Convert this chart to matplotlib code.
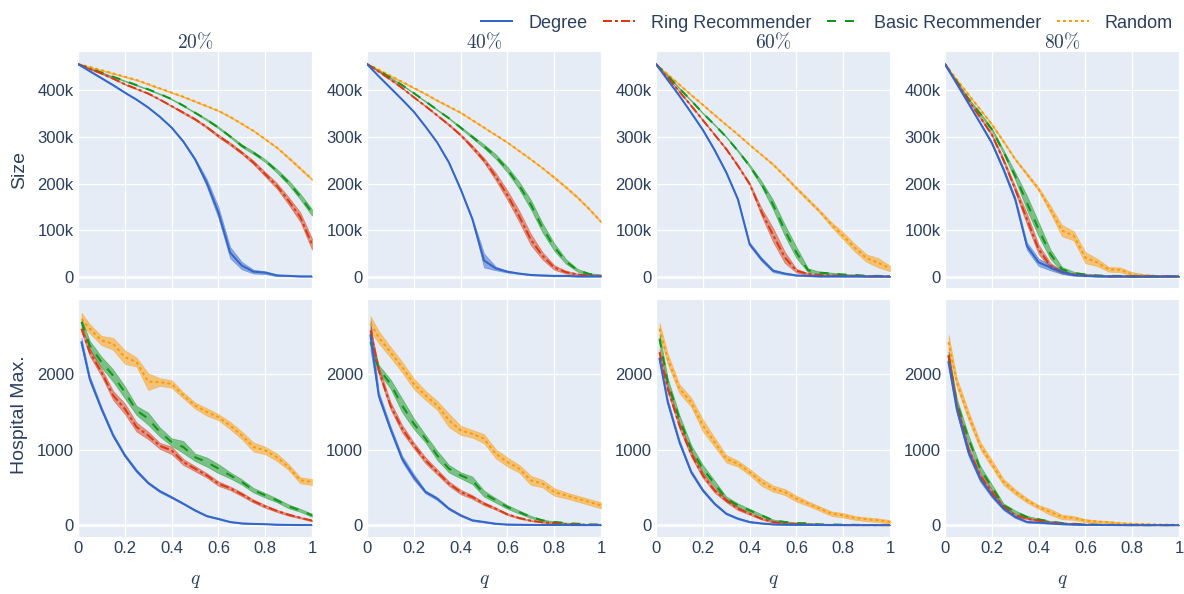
import matplotlib
matplotlib.use("Agg")
import matplotlib.pyplot as plt
import numpy as np
from matplotlib.lines import Line2D

# ---------------- data ----------------
q_size = [0, 0.05, 0.1, 0.15, 0.2, 0.25, 0.3, 0.35, 0.4, 0.45, 0.5,
          0.55, 0.6, 0.65, 0.7, 0.75, 0.8, 0.85, 0.9, 0.95, 1.0]
q_hosp = [0.015, 0.05, 0.1, 0.15, 0.2, 0.25, 0.3, 0.35, 0.4, 0.45, 0.5,
          0.55, 0.6, 0.65, 0.7, 0.75, 0.8, 0.85, 0.9, 0.95, 1.0]

panel_titles = ["20%", "40%", "60%", "80%"]
series_names = ["Degree", "Ring Recommender", "Basic Recommender", "Random"]
size_ticks = [0, 100000, 200000, 300000, 400000]
size_tick_labels = ["0", "100k", "200k", "300k", "400k"]
hosp_ticks = [0, 1000, 2000]
hosp_tick_labels = ["0", "1000", "2000"]
x_ticks = [0, 0.2, 0.4, 0.6, 0.8, 1.0]
x_tick_labels = ["0", "0.2", "0.4", "0.6", "0.8", "1"]

# Size (thousands) -- mean and band half-width
size20_degree = [456, 441, 426, 411, 395, 380, 363, 343, 320, 290, 252, 202, 138, 52, 24, 11, 9, 3, 2, 1, 1]
size20_degree_err = [0, 1, 1, 1, 1, 1, 1, 1, 1, 2, 3, 8, 12, 12, 8, 4, 3, 2, 1, 1, 1]
size20_ring = [456, 446, 436, 425, 413, 403, 393, 380, 366, 352, 338, 321, 302, 285, 266, 245, 220, 195, 163, 128, 70]
size20_ring_err = [0, 1, 1, 1, 1, 1, 1, 1, 1, 2, 2, 2, 3, 3, 3, 4, 5, 6, 8, 10, 12]
size20_basic = [456, 447, 438, 429, 420, 411, 402, 392, 381, 367, 352, 337, 320, 301, 281, 266, 249, 227, 202, 172, 138]
size20_basic_err = [0, 1, 1, 1, 1, 1, 1, 1, 1, 1, 1, 2, 2, 2, 3, 3, 3, 4, 5, 6, 7]
size20_random = [456, 450, 443, 436, 429, 422, 413, 404, 395, 386, 376, 366, 356, 343, 328, 313, 295, 277, 255, 232, 209]
size20_random_err = [0, 1, 1, 1, 1, 1, 1, 1, 1, 1, 1, 1, 1, 1, 1, 1, 1, 1, 2, 2, 2]

size40_degree = [456, 430, 405, 380, 354, 322, 288, 245, 188, 124, 35, 18, 11, 7, 4, 3, 2, 2, 1, 1, 1]
size40_degree_err = [0, 1, 1, 1, 1, 1, 1, 2, 2, 3, 15, 4, 2, 1, 1, 1, 1, 1, 1, 1, 1]
size40_ring = [456, 440, 423, 405, 385, 366, 346, 326, 304, 278, 250, 215, 175, 130, 80, 45, 20, 10, 5, 3, 2]
size40_ring_err = [0, 1, 1, 1, 1, 1, 1, 2, 2, 4, 5, 8, 10, 12, 12, 8, 5, 3, 2, 1, 1]
size40_basic = [456, 442, 427, 411, 394, 376, 358, 340, 320, 300, 280, 258, 230, 196, 155, 105, 64, 33, 14, 6, 4]
size40_basic_err = [0, 1, 1, 1, 1, 1, 1, 1, 2, 3, 4, 5, 6, 8, 10, 10, 8, 5, 3, 2, 1]
size40_random = [456, 444, 431, 418, 405, 392, 378, 365, 352, 336, 320, 304, 288, 270, 252, 233, 213, 192, 170, 145, 118]
size40_random_err = [0, 1, 1, 1, 1, 1, 1, 1, 1, 1, 1, 1, 1, 1, 1, 1, 2, 2, 2, 2, 2]

size60_degree = [456, 422, 388, 352, 315, 272, 224, 166, 70, 38, 13, 7, 3, 2, 1, 1, 1, 1, 1, 1, 1]
size60_degree_err = [0, 1, 1, 1, 2, 2, 2, 3, 4, 4, 3, 2, 1, 1, 1, 1, 1, 1, 1, 1, 1]
size60_ring = [456, 427, 397, 367, 336, 305, 274, 238, 199, 140, 90, 42, 13, 6, 4, 3, 2, 2, 1, 1, 1]
size60_ring_err = [0, 1, 1, 1, 1, 1, 2, 2, 3, 8, 15, 12, 4, 2, 1, 1, 1, 1, 1, 1, 1]
size60_basic = [456, 431, 404, 378, 351, 326, 300, 270, 238, 200, 155, 100, 52, 14, 9, 7, 5, 4, 2, 2, 1]
size60_basic_err = [0, 1, 1, 1, 1, 1, 1, 2, 3, 6, 10, 12, 12, 4, 2, 2, 1, 1, 1, 1, 1]
size60_random = [456, 434, 412, 390, 369, 347, 326, 305, 283, 262, 241, 216, 190, 165, 140, 112, 88, 62, 40, 30, 18]
size60_random_err = [0, 1, 1, 1, 1, 1, 1, 1, 1, 1, 2, 2, 3, 3, 3, 5, 8, 8, 8, 10, 6]

size80_degree = [456, 414, 372, 330, 287, 230, 166, 66, 31, 20, 10, 4, 2, 1, 1, 1, 1, 1, 1, 1, 1]
size80_degree_err = [0, 1, 1, 2, 3, 4, 5, 8, 8, 6, 4, 2, 1, 1, 1, 1, 1, 1, 1, 1, 1]
size80_ring = [456, 417, 378, 342, 305, 250, 188, 124, 59, 24, 10, 5, 3, 2, 1, 1, 1, 1, 1, 1, 1]
size80_ring_err = [0, 1, 1, 2, 3, 4, 6, 12, 10, 6, 3, 2, 1, 1, 1, 1, 1, 1, 1, 1, 1]
size80_basic = [456, 419, 382, 350, 316, 268, 216, 159, 102, 49, 16, 8, 5, 3, 2, 2, 1, 1, 1, 1, 1]
size80_basic_err = [0, 1, 1, 2, 3, 4, 8, 15, 15, 10, 5, 3, 2, 1, 1, 1, 1, 1, 1, 1, 1]
size80_random = [456, 423, 391, 359, 327, 290, 252, 220, 188, 145, 99, 88, 41, 31, 16, 15, 5, 3, 2, 1, 1]
size80_random_err = [0, 1, 1, 1, 2, 2, 2, 3, 4, 8, 12, 10, 12, 8, 5, 5, 5, 3, 2, 1, 1]

# Hospital max -- mean and band half-width
hosp20_degree = [2420, 1938, 1542, 1189, 925, 720, 560, 450, 370, 286, 198, 123, 85, 44, 25, 18, 15, 8, 5, 3, 3]
hosp20_degree_err = [60, 40, 30, 25, 20, 20, 15, 15, 12, 10, 10, 8, 8, 5, 5, 3, 3, 2, 2, 1, 1]
hosp20_ring = [2600, 2290, 2026, 1718, 1542, 1300, 1189, 1050, 991, 837, 749, 661, 551, 490, 410, 320, 250, 190, 140, 100, 62]
hosp20_ring_err = [40, 50, 50, 60, 70, 60, 50, 40, 50, 40, 35, 30, 30, 25, 25, 20, 20, 15, 15, 10, 10]
hosp20_basic = [2690, 2380, 2160, 1980, 1760, 1520, 1410, 1233, 1101, 1035, 900, 837, 749, 661, 573, 463, 396, 330, 250, 198, 132]
hosp20_basic_err = [40, 60, 70, 80, 80, 60, 80, 60, 50, 80, 50, 60, 60, 40, 35, 30, 30, 25, 25, 20, 20]
hosp20_random = [2730, 2600, 2445, 2400, 2225, 2160, 1900, 1895, 1870, 1720, 1585, 1500, 1430, 1320, 1190, 1035, 990, 900, 770, 595, 573]
hosp20_random_err = [80, 60, 60, 80, 90, 60, 110, 50, 50, 40, 40, 50, 40, 50, 50, 60, 50, 50, 40, 40, 40]

hosp40_degree = [2511, 1718, 1278, 881, 639, 441, 352, 220, 132, 66, 44, 20, 10, 7, 5, 4, 3, 3, 2, 2, 2]
hosp40_degree_err = [200, 50, 40, 40, 40, 20, 20, 15, 12, 10, 8, 5, 3, 2, 2, 1, 1, 1, 1, 1, 1]
hosp40_ring = [2577, 2050, 1586, 1278, 1057, 859, 705, 551, 441, 374, 286, 220, 145, 97, 62, 40, 25, 15, 10, 7, 5]
hosp40_ring_err = [50, 50, 50, 50, 40, 40, 35, 30, 30, 25, 20, 15, 12, 10, 8, 6, 5, 4, 3, 2, 2]
hosp40_basic = [2423, 2070, 1872, 1586, 1344, 1145, 925, 749, 661, 595, 419, 330, 242, 176, 110, 66, 44, 30, 20, 12, 8]
hosp40_basic_err = [50, 50, 60, 90, 70, 50, 60, 50, 40, 50, 40, 30, 25, 20, 15, 10, 8, 6, 5, 4, 3]
hosp40_random = [2665, 2489, 2291, 2093, 1872, 1718, 1586, 1388, 1256, 1211, 1145, 947, 837, 749, 595, 551, 441, 396, 352, 308, 264]
hosp40_random_err = [100, 80, 70, 70, 70, 60, 60, 90, 60, 50, 60, 60, 60, 50, 60, 50, 50, 40, 40, 40, 40]

hosp60_degree = [2203, 1630, 1101, 705, 463, 286, 154, 88, 44, 25, 12, 8, 5, 4, 3, 2, 2, 2, 2, 2, 2]
hosp60_degree_err = [40, 40, 30, 25, 20, 15, 12, 10, 8, 5, 4, 3, 2, 2, 2, 1, 1, 1, 1, 1, 1]
hosp60_ring = [2290, 1806, 1322, 947, 661, 463, 330, 220, 154, 88, 44, 25, 15, 10, 6, 4, 3, 2, 2, 2, 2]
hosp60_ring_err = [50, 40, 40, 40, 35, 30, 25, 20, 15, 12, 10, 8, 5, 4, 3, 2, 2, 2, 1, 1, 1]
hosp60_basic = [2467, 1894, 1410, 1013, 749, 551, 352, 264, 198, 132, 66, 44, 30, 25, 12, 10, 8, 6, 4, 3, 3]
hosp60_basic_err = [60, 50, 50, 50, 50, 40, 30, 25, 20, 15, 12, 10, 8, 6, 5, 4, 3, 2, 2, 2, 2]
hosp60_random = [2600, 2203, 1806, 1630, 1322, 1101, 881, 815, 705, 573, 485, 441, 352, 286, 220, 154, 132, 97, 79, 66, 44]
hosp60_random_err = [80, 70, 60, 60, 80, 60, 50, 40, 40, 50, 40, 40, 40, 30, 30, 30, 30, 25, 25, 25, 25]

hosp80_degree = [2159, 1542, 969, 617, 396, 220, 110, 44, 35, 25, 15, 10, 6, 4, 3, 2, 2, 2, 2, 2, 2]
hosp80_degree_err = [60, 60, 50, 40, 30, 20, 15, 10, 8, 6, 5, 4, 3, 2, 2, 1, 1, 1, 1, 1, 1]
hosp80_ring = [2247, 1586, 1013, 661, 441, 242, 132, 88, 62, 40, 25, 15, 10, 6, 4, 3, 2, 2, 2, 2, 2]
hosp80_ring_err = [50, 50, 40, 35, 30, 20, 15, 10, 8, 6, 5, 4, 3, 2, 2, 1, 1, 1, 1, 1, 1]
hosp80_basic = [2247, 1630, 1145, 749, 507, 264, 176, 110, 79, 50, 30, 20, 12, 8, 6, 4, 3, 2, 2, 2, 2]
hosp80_basic_err = [50, 50, 50, 40, 35, 25, 20, 15, 10, 8, 6, 5, 4, 3, 2, 2, 2, 1, 1, 1, 1]
hosp80_random = [2423, 1894, 1454, 1057, 815, 573, 441, 330, 242, 176, 110, 97, 62, 50, 40, 25, 20, 15, 10, 8, 5]
hosp80_random_err = [100, 60, 60, 50, 50, 40, 35, 30, 25, 40, 30, 25, 20, 15, 15, 15, 10, 10, 8, 8, 5]

# ---------------- assemble ----------------
size_panels = [
    [(size20_degree, size20_degree_err), (size20_ring, size20_ring_err), (size20_basic, size20_basic_err), (size20_random, size20_random_err)],
    [(size40_degree, size40_degree_err), (size40_ring, size40_ring_err), (size40_basic, size40_basic_err), (size40_random, size40_random_err)],
    [(size60_degree, size60_degree_err), (size60_ring, size60_ring_err), (size60_basic, size60_basic_err), (size60_random, size60_random_err)],
    [(size80_degree, size80_degree_err), (size80_ring, size80_ring_err), (size80_basic, size80_basic_err), (size80_random, size80_random_err)],
]
hosp_panels = [
    [(hosp20_degree, hosp20_degree_err), (hosp20_ring, hosp20_ring_err), (hosp20_basic, hosp20_basic_err), (hosp20_random, hosp20_random_err)],
    [(hosp40_degree, hosp40_degree_err), (hosp40_ring, hosp40_ring_err), (hosp40_basic, hosp40_basic_err), (hosp40_random, hosp40_random_err)],
    [(hosp60_degree, hosp60_degree_err), (hosp60_ring, hosp60_ring_err), (hosp60_basic, hosp60_basic_err), (hosp60_random, hosp60_random_err)],
    [(hosp80_degree, hosp80_degree_err), (hosp80_ring, hosp80_ring_err), (hosp80_basic, hosp80_basic_err), (hosp80_random, hosp80_random_err)],
]

colors = ["#3366CC", "#DC3912", "#109618", "#FF9900"]
LW = 1.44
styles = ["-", (0, (4.5, 1.5, 1.5, 1.5)), (0, (4.5, 4.5)), (0, (1.5, 1.5))]

TXT = "#2a3f5f"
BG = "#E5ECF6"
plt.rcParams["font.family"] = ["Liberation Sans", "DejaVu Sans"]
plt.rcParams["mathtext.fontset"] = "cm"

W, H = 1184, 594
fig = plt.figure(figsize=(W / 100, H / 100), dpi=100)

col_x = [78, 367, 656, 945]
col_w = 234
rows = [(52, 288), (300, 537)]

for r, (y0, y1) in enumerate(rows):
    for c, x0 in enumerate(col_x):
        ax = fig.add_axes([x0 / W, 1 - y1 / H, col_w / W, (y1 - y0) / H])
        ax.set_facecolor(BG)
        for s in ax.spines.values():
            s.set_visible(False)
        if r == 0:
            q = q_size
            scale = 1000.0
            data = size_panels[c]
            ax.set_ylim(-24000, 482000)
            ax.set_yticks(size_ticks)
            ax.set_yticklabels(size_tick_labels)
        else:
            q = q_hosp
            scale = 1.0
            data = hosp_panels[c]
            ax.set_ylim(-155, 2980)
            ax.set_yticks(hosp_ticks)
            ax.set_yticklabels(hosp_tick_labels)
        ax.set_xlim(0, 1)
        ax.set_xticks(x_ticks)
        if r == 1:
            ax.set_xticklabels(x_tick_labels)
        else:
            ax.set_xticklabels([])
        ax.grid(True, color="white", lw=0.9, zorder=0)
        ax.set_axisbelow(True)
        ax.axhline(0, color="white", lw=1.8, zorder=0.5)
        ax.tick_params(length=0, labelsize=12, colors=TXT, pad=3)
        for i in [3, 2, 1, 0]:
            m, e = data[i]
            m = np.array(m, float) * scale
            e = np.array(e, float) * scale
            ax.fill_between(q, m - e, m + e, facecolor=colors[i], alpha=0.5,
                            edgecolor=colors[i], lw=0.5, zorder=2 + (3 - i) * 0.1)
            ax.plot(q, m, color=colors[i], lw=LW, linestyle=styles[i],
                    zorder=3 + (3 - i) * 0.1)
        if r == 0:
            ax.set_title(r"$%s\%%$" % panel_titles[c][:-1], fontsize=14, color=TXT, pad=-1)
        else:
            fig.text((x0 + col_w / 2) / W, 1 - 582 / H, r"$q$", fontsize=14,
                     color=TXT, ha="center", va="center")

fig.text(20 / W, 1 - 170 / H, "Size", rotation=90, fontsize=14, color=TXT,
         ha="center", va="center")
fig.text(20 / W, 1 - 415 / H, "Hospital Max.", rotation=90, fontsize=14,
         color=TXT, ha="center", va="center")

handles = [Line2D([0], [0], color=colors[i], lw=LW, linestyle=styles[i]) for i in range(4)]
fig.legend(handles, series_names, loc="center right", bbox_to_anchor=(1173 / W, 1 - 23 / H),
           ncol=4, frameon=False, fontsize=13, handlelength=1.75, handletextpad=0.9,
           columnspacing=0.85, borderpad=0, borderaxespad=0, labelcolor=TXT)

fig.savefig("out.png", dpi=100)
